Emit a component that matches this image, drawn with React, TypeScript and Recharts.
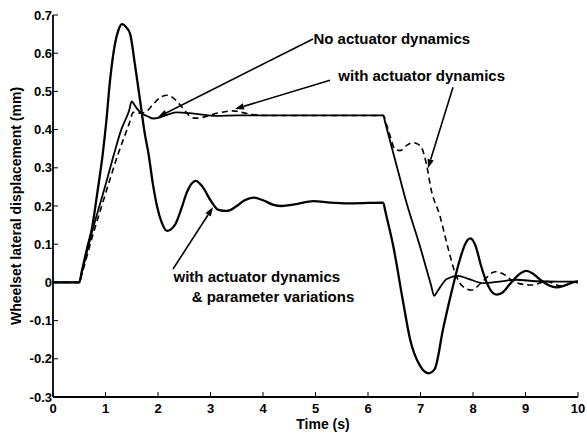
import React from "react";
import { LineChart, Line, XAxis, YAxis, ReferenceLine, ReferenceDot } from "recharts";

// ---- axis ticks ----
const xTicks = [0, 1, 2, 3, 4, 5, 6, 7, 8, 9, 10];
const yTicks = [-0.3, -0.2, -0.1, 0, 0.1, 0.2, 0.3, 0.4, 0.5, 0.6, 0.7];

// ---- series: No actuator dynamics (thin solid) ----
const noActT = [0, 0.5, 0.55, 0.75, 1.0, 1.15, 1.3, 1.45, 1.5, 1.55, 1.6, 1.69, 1.8, 1.91, 2.04, 2.2, 2.36, 2.6, 2.8, 3.1, 3.5, 4.0, 5.0, 6.0, 6.29, 6.33, 6.45, 6.61, 6.7, 7.0, 7.2, 7.26, 7.32, 7.5, 7.72, 7.9, 8.2, 8.5, 8.83, 9.2, 9.6, 10];
const noActY = [0, 0, 0.027, 0.135, 0.255, 0.33, 0.4, 0.45, 0.474, 0.465, 0.455, 0.442, 0.435, 0.429, 0.432, 0.44, 0.445, 0.443, 0.44, 0.436, 0.437, 0.437, 0.437, 0.437, 0.437, 0.417, 0.355, 0.272, 0.225, 0.09, -0.007, -0.035, -0.024, 0.009, 0.017, 0.01, -0.002, 0.002, 0.007, 0.003, 0.002, 0.002];

// ---- series: with actuator dynamics (dashed) ----
const actT = [0, 0.5, 0.55, 0.75, 1.0, 1.24, 1.45, 1.53, 1.65, 1.75, 1.9, 2.05, 2.18, 2.3, 2.45, 2.6, 2.7, 2.85, 3.0, 3.2, 3.43, 3.7, 4.0, 5.0, 6.0, 6.29, 6.36, 6.42, 6.51, 6.61, 6.75, 6.86, 6.95, 7.02, 7.12, 7.2, 7.37, 7.53, 7.68, 7.8, 7.97, 8.2, 8.42, 8.6, 8.8, 9.12, 9.4, 9.66, 9.85, 10];
const actY = [0, 0, 0.022, 0.12, 0.232, 0.336, 0.415, 0.445, 0.443, 0.445, 0.465, 0.485, 0.49, 0.482, 0.46, 0.436, 0.43, 0.432, 0.438, 0.445, 0.449, 0.442, 0.437, 0.437, 0.437, 0.437, 0.41, 0.384, 0.349, 0.345, 0.36, 0.366, 0.362, 0.353, 0.305, 0.245, 0.174, 0.087, 0.017, -0.01, -0.02, 0.005, 0.028, 0.02, 0.0, -0.007, 0.003, -0.009, -0.003, 0];

// ---- series: with actuator dynamics & parameter variations (thick solid) ----
const paramT = [0, 0.5, 0.55, 0.65, 0.74, 0.85, 0.947, 1.01, 1.086, 1.18, 1.25, 1.31, 1.4, 1.47, 1.56, 1.66, 1.75, 1.82, 1.9, 1.98, 2.07, 2.17, 2.32, 2.45, 2.55, 2.72, 2.85, 3.0, 3.15, 3.31, 3.5, 3.65, 3.82, 4.0, 4.2, 4.36, 4.6, 4.96, 5.28, 5.6, 6.0, 6.29, 6.33, 6.48, 6.67, 6.8, 6.99, 7.15, 7.27, 7.43, 7.59, 7.75, 7.85, 7.95, 8.05, 8.15, 8.26, 8.36, 8.45, 8.55, 8.7, 8.85, 9.02, 9.15, 9.3, 9.45, 9.59, 9.75, 9.9, 10];
const paramY = [0, 0, 0.03, 0.09, 0.14, 0.24, 0.336, 0.414, 0.528, 0.624, 0.662, 0.676, 0.667, 0.65, 0.571, 0.475, 0.388, 0.336, 0.26, 0.2, 0.157, 0.135, 0.15, 0.195, 0.236, 0.266, 0.25, 0.215, 0.19, 0.187, 0.2, 0.215, 0.222, 0.215, 0.203, 0.2, 0.204, 0.213, 0.209, 0.207, 0.208, 0.209, 0.186, 0.096, -0.052, -0.148, -0.218, -0.238, -0.227, -0.122, -0.026, 0.06, 0.1, 0.115, 0.095, 0.045, 0.0, -0.025, -0.032, -0.028, -0.005, 0.018, 0.03, 0.022, 0.005, -0.008, -0.013, -0.008, 0.0, 0.003];

// ---- annotations (data coordinates) ----
const labelTexts = ["No actuator dynamics", "with actuator dynamics", "with actuator dynamics", "& parameter variations"];
const labelX = [4.96, 5.435, 2.295, 2.642];
const labelY = [0.624, 0.528, 0.001, -0.05];
const arrowTailX = [4.952, 5.276, 7.619, 2.286];
const arrowTailY = [0.637, 0.529, 0.511, 0.035];
const arrowHeadX = [2.0, 3.467, 7.143, 3.048];
const arrowHeadY = [0.433, 0.454, 0.299, 0.197];

const toData = (ts: number[], vs: number[]) => ts.map((t, i) => ({ t, v: vs[i] }));
const noActData = toData(noActT, noActY);
const actData = toData(actT, actY);
const paramData = toData(paramT, paramY);

const FONT = "'Liberation Sans', Arial, Helvetica, sans-serif";
const TK = 5;

const fmtY = (v: number) => (Math.abs(v) < 1e-9 ? "0" : v.toFixed(1));

const BottomTick = (p: any) => (
  <g>
    <line x1={p.x} y1={p.y} x2={p.x} y2={p.y - TK} stroke="#000" strokeWidth={1} />
    <text x={p.x} y={p.y + 15.5} textAnchor="middle" fontSize={13} fontWeight="bold" fontFamily={FONT} fill="#000">
      {String(p.payload.value)}
    </text>
  </g>
);
const LeftTick = (p: any) => (
  <g>
    <line x1={p.x} y1={p.y} x2={p.x + TK} y2={p.y} stroke="#000" strokeWidth={1} />
    <text x={p.x - 1} y={p.y + 4.6} textAnchor="end" fontSize={13} fontWeight="bold" fontFamily={FONT} fill="#000">
      {fmtY(p.payload.value)}
    </text>
  </g>
);
const TopTick = (p: any) => (
  <line x1={p.x} y1={p.y} x2={p.x} y2={p.y + TK} stroke="#000" strokeWidth={1} />
);
const RightTick = (p: any) => (
  <line x1={p.x} y1={p.y} x2={p.x - TK} y2={p.y} stroke="#000" strokeWidth={1} />
);

const Arrow = (p: any) => {
  const { x1, y1, x2, y2 } = p;
  const ang = Math.atan2(y2 - y1, x2 - x1);
  const L = 9;
  const W = 3.2;
  const bx = x2 - L * Math.cos(ang);
  const by = y2 - L * Math.sin(ang);
  const px = -Math.sin(ang) * W;
  const py = Math.cos(ang) * W;
  return (
    <g>
      <line x1={x1} y1={y1} x2={bx} y2={by} stroke="#000" strokeWidth={1.6} />
      <polygon points={`${x2},${y2} ${bx + px},${by + py} ${bx - px},${by - py}`} fill="#000" />
    </g>
  );
};

const makeTextShape = (txt: string) => (p: any) => (
  <text x={p.cx} y={p.cy} fontSize={15} fontWeight="bold" fontFamily={FONT} fill="#000">
    {txt}
  </text>
);

const YLabel = () => (
  <text x={21} y={206} transform="rotate(-90 21 206)" textAnchor="middle" fontSize={14} fontWeight="bold" fontFamily={FONT} fill="#000">
    Wheelset lateral displacement (mm)
  </text>
);
const XLabel = () => (
  <text x={323} y={428.5} textAnchor="middle" fontSize={14} fontWeight="bold" fontFamily={FONT} fill="#000">
    Time (s)
  </text>
);

function wrapLabel(C: () => React.ReactElement) {
  return () => <C />;
}

export default function App() {
  return (
    <div style={{ position: "absolute", left: 0, top: 0, width: 587, height: 433, background: "#fff" }}>
      <LineChart width={587} height={433} margin={{ top: 15, right: 9, left: 0, bottom: 0 }}>
        <XAxis
          dataKey="t"
          type="number"
          domain={[0, 10]}
          ticks={xTicks}
          interval={0}
          height={36}
          tickSize={0}
          tickMargin={0}
          tick={BottomTick}
          axisLine={{ stroke: "#000", strokeWidth: 1.8 }}
          label={wrapLabel(XLabel)}
          allowDataOverflow
        />
        <XAxis
          xAxisId="top"
          orientation="top"
          type="number"
          domain={[0, 10]}
          ticks={xTicks}
          interval={0}
          height={0}
          tickSize={0}
          tickMargin={0}
          tick={TopTick}
          axisLine={{ stroke: "#000", strokeWidth: 1.4 }}
          allowDataOverflow
        />
        <YAxis
          type="number"
          domain={[-0.3, 0.7]}
          ticks={yTicks}
          interval={0}
          width={53}
          tickSize={0}
          tickMargin={0}
          tick={LeftTick}
          axisLine={{ stroke: "#000", strokeWidth: 1.8 }}
          label={wrapLabel(YLabel)}
          allowDataOverflow
        />
        <YAxis
          yAxisId="right"
          orientation="right"
          type="number"
          domain={[-0.3, 0.7]}
          ticks={yTicks}
          interval={0}
          width={0}
          tickSize={0}
          tickMargin={0}
          tick={RightTick}
          axisLine={{ stroke: "#000", strokeWidth: 1.4 }}
          allowDataOverflow
        />
        <Line data={paramData} dataKey="v" type="monotone" stroke="#000" strokeWidth={2.3} dot={false} isAnimationActive={false} />
        <Line data={noActData} dataKey="v" type="monotone" stroke="#000" strokeWidth={1.8} dot={false} isAnimationActive={false} />
        <Line data={actData} dataKey="v" type="monotone" stroke="#000" strokeWidth={1.6} strokeDasharray="6 4" dot={false} isAnimationActive={false} />
        {arrowTailX.map((_, i) => (
          <ReferenceLine
            key={"arr" + i}
            segment={[
              { x: arrowTailX[i], y: arrowTailY[i] },
              { x: arrowHeadX[i], y: arrowHeadY[i] },
            ]}
            shape={Arrow}
            ifOverflow="visible"
          />
        ))}
        {labelTexts.map((txt, i) => (
          <ReferenceDot key={"lbl" + i} x={labelX[i]} y={labelY[i]} r={0} shape={makeTextShape(txt)} ifOverflow="visible" />
        ))}
      </LineChart>
    </div>
  );
}
